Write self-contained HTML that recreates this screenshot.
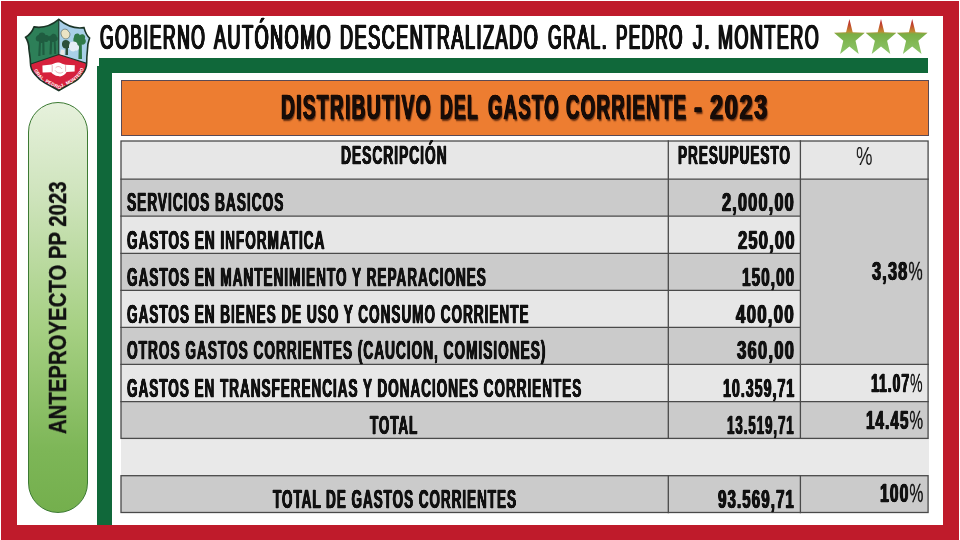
<!DOCTYPE html>
<html lang="es">
<head>
<meta charset="utf-8">
<title>Distributivo del Gasto Corriente - 2023</title>
<style>
  html, body { margin: 0; padding: 0; background: #fff; }
  body { width: 960px; height: 540px; overflow: hidden; position: relative;
         font-family: "Liberation Sans", sans-serif; color: #111; }
  #slide { position: absolute; left: 0; top: 0; width: 960px; height: 540px; background: #fff; overflow: hidden; }
  .abs { position: absolute; }
  .grp { left: 0; top: 0; width: 0; height: 0; margin: 0; font-size: 0; }
  .t { position: absolute; white-space: nowrap; will-change: transform; transform-origin: 0 0; font-family: "Liberation Sans", sans-serif; font-weight: bold; line-height: 1; display: block; margin: 0; padding: 0; color: #111;
       -webkit-text-stroke: 0.3px #111; text-shadow: 0.9px 0 0 #111, -0.9px 0 0 #111, 0.45px 0 0 #111, -0.45px 0 0 #111; letter-spacing: 1.9px; }
  .t .pc { font-weight: normal; text-shadow: none; letter-spacing: 0; -webkit-text-stroke: 0.35px #111; }
  .t.pct { font-weight: normal; text-shadow: none; letter-spacing: 0; -webkit-text-stroke: 0; }
  .t.pl { text-shadow: none; letter-spacing: 0; -webkit-text-stroke: 0.35px #111; }
  .t.sh, .t.shm { color: #170c08; -webkit-text-stroke: 0.5px #170c08; letter-spacing: 2.4px; }
  .t.shm { text-shadow: 1px 0 0 #170c08, -1px 0 0 #170c08, 0.5px 0 0 #170c08, -0.5px 0 0 #170c08; }
  .t.sh { text-shadow: 1px 0 0 #170c08, -1px 0 0 #170c08, 0.5px 0 0 #170c08, -0.5px 0 0 #170c08, 2px 1.5px 1.8px rgba(40,10,0,0.7); }
  .t.org { font-weight: normal; text-shadow: 1.6px 0 0 #111, -1.6px 0 0 #111, 0.8px 0 0 #111, -0.8px 0 0 #111; -webkit-text-stroke: 0.5px #111; letter-spacing: 3px; }


  /* red frame */
  #frame { left: 1px; top: 1px; width: 957.5px; height: 539px; background: #bf1b2b; }
  #paper { left: 16.5px; top: 15.5px; width: 926.8px; height: 509.3px; background: #fff; }
  /* green L */
  .green { background: #10683a; }
  #gtop { left: 98.5px; top: 58.3px; width: 829.5px; height: 15px; }
  #gleft { left: 97.2px; top: 66px; width: 14.7px; height: 458.8px; }
  /* pill */
  #pill { left: 27.5px; top: 102px; width: 60.5px; height: 411px; border-radius: 31px;
          box-sizing: border-box; border: 1px solid #3c7a33;
          background: linear-gradient(to bottom, #e6f1dc 0%, #cfe4bd 22%, #a6d083 55%, #7db657 85%, #74af4d 100%); }
  /* title box */
  #titlebox { left: 120.5px; top: 80px; width: 808.5px; height: 55.5px; box-sizing: border-box;
              background: #ed7d31; border: 1px solid #5b4a55; }
  /* table cells */
  .c { position: absolute; }
  .d { background: #cbcbcb; }
  .l { background: #e7e7e7; }
  .s { background: #e9e9e9; }
  #logo { left: 24px; top: 18px; }
  #stars { left: 830px; top: 16px; }
</style>
</head>
<body>
<div id="slide">
  <div id="frame" class="abs"></div>
  <div id="paper" class="abs"></div>

  <!-- municipal shield -->
  <svg id="logo" class="abs" width="68" height="74" viewBox="24 18 68 74">
    <defs>
      <clipPath id="shc"><path id="shp" d="M58.8 19.4 C52 25 43 28.5 34.1 26.9 C32.5 31 29.5 35 25.6 37.2 C28 41 29 45 28.9 49 C29.5 54 30.4 58 30.4 62.4 C30.4 67 32 71 34.8 74.3 C38 78.5 41.5 81 45.2 83.1 C50 85.8 55 88 58.8 90.6 C62.6 88 67 85.8 71.9 83.1 C76 81 79.5 78.5 82.2 74.3 C85 71 86.7 67 86.7 62.4 C86.7 58 87 54 87.4 50.6 C87.4 46 88 42 89.6 38 C86.5 35.5 85 31.5 84 27.6 C75 29 65.5 25 58.8 19.4 Z"/></clipPath>
      <path id="arc" d="M33.6 68.5 C36 76 42 80.6 47 83.2 C51 85.2 55 87 58.8 88.8 C62.6 87 66.6 85.2 70.6 83.2 C75.6 80.6 81.6 76 84 68.5"/>
    </defs>
    <g clip-path="url(#shc)">
      <rect x="24" y="18" width="35" height="74" fill="#2d7f58"/>
      <rect x="58.8" y="18" width="35" height="74" fill="#a9d0e8"/>
      <!-- left trees -->
      <path d="M38.2 56 L39 41.5 C35 42 34.5 36 38.5 35 C39.5 31.5 45 31.8 45.5 35.2 C48.5 34 50.5 38 48.6 40.4 C47.6 42 45.6 42.2 44.4 41.6 L44.6 55 L42.4 55 L42.3 43 L40.9 43 L40.4 56 Z" fill="#1f5c40"/>
      <path d="M49.4 54.5 L50 41 C47.5 40 48 35.5 51 35.4 C52 32.8 56.5 33.4 56.6 36.4 C58.6 37.5 57.8 41 55.6 41.2 L56.2 54 L54.2 54 L53.8 42 L52.2 42 L51.6 54.5 Z" fill="#1f5c40"/>
      <!-- right scene -->
      <path d="M61 32.5 C61.5 28.5 67.5 28 68.6 31.6 C71 33 70 38.5 66.5 38.8 C63.5 39.5 60.6 36 61 32.5 Z" fill="#ece4c4" stroke="#4a5a52" stroke-width="0.6"/>
      <path d="M63 41 C65 39 70 40 70 43.5 C71.5 45.5 70 48.5 68 48 L68 55 L65.4 55 L65.6 48.5 C62 48.5 61 43.5 63 41 Z" fill="#2c4f3a"/>
      <path d="M74 37 C74 33 79 32.6 79.8 35.2 C82 32.8 86.5 35 84.8 38.6 C87.2 41 85.2 45.5 81.8 44.6 L82 59 L78.4 59 L78.8 45.8 C75 46.6 72 41.5 74 37 Z" fill="#2f7a48"/>
      <path d="M69.4 44 C71 40.4 77.6 41 77.6 45 C80.4 46.4 79 51.4 75.4 50.6 C72.4 53 67.4 50 69.4 44 Z" fill="#e4eef6"/>
      <path d="M60 55 L61 49.5 L64.6 49.8 L64.4 55.6 Z" fill="#e6e6e6"/>
      <!-- lower red field -->
      <path d="M20 67.6 L58.8 54.6 L95 66 L95 95 L20 95 Z" fill="#d6213c"/>
      <!-- handshake -->
      <path d="M42.4 65.6 L51.6 64.6 L54.6 63.2 C56.6 62.2 60.2 62.4 62.2 63.8 L65.4 64.8 L74.8 65.2 L74.6 71.6 L66.6 72 C65 75 61 77.4 58.2 76 C55.6 76.2 52.8 74.2 51.2 72.2 L42.6 72.4 Z" fill="#fff"/>
      <path d="M52.2 65.2 L52.2 71.8 M65.6 65.2 L65.6 71.6 M55.6 67.8 C57.6 65.8 60.2 66.2 61.8 68.8 M55 70.4 C57 73 60.6 74 63.2 72" stroke="#e08c98" stroke-width="0.7" fill="none"/>
      <!-- divider lines -->
      <path d="M58.8 19 L58.8 54.6 M27 65.3 L58.8 54.6 L90 64.4" stroke="#1a3426" stroke-width="1.1" fill="none"/>
    </g>
    <use href="#shp" fill="none" stroke="#1a3426" stroke-width="1.6"/>
    <text font-family="'Liberation Sans', sans-serif" font-size="4.7" font-weight="bold" fill="#ffffff" letter-spacing="0.1"><textPath href="#arc" startOffset="1.5">GRAL. PEDRO J. MONTERO</textPath></text>
  </svg>

  <h1 class="abs grp">
    <span class="t org" style="left:99.50px;top:20.09px;font-size:35.9px;transform:scaleX(0.4889)">GOBIERNO</span> 
    <span class="t org" style="left:214.31px;top:20.09px;font-size:35.9px;transform:scaleX(0.5018)">AUTÓNOMO</span> 
    <span class="t org" style="left:339.85px;top:20.09px;font-size:35.9px;transform:scaleX(0.5031)">DESCENTRALIZADO</span> 
    <span class="t org" style="left:548.10px;top:20.09px;font-size:35.9px;transform:scaleX(0.4895)">GRAL.</span> 
    <span class="t org" style="left:616.09px;top:20.09px;font-size:35.9px;transform:scaleX(0.4758)">PEDRO</span> 
    <span class="t org" style="left:692.94px;top:20.09px;font-size:35.9px;transform:scaleX(0.5368)">J.</span> 
    <span class="t org" style="left:717.66px;top:20.09px;font-size:35.9px;transform:scaleX(0.4999)">MONTERO</span> 
  </h1>

  <!-- three stars -->
  <svg id="stars" class="abs" width="100" height="40" viewBox="830 16 100 40">
    <defs>
      <linearGradient id="sg" x1="0" y1="0" x2="0" y2="1">
        <stop offset="0" stop-color="#b31f2e"/>
        <stop offset="0.2" stop-color="#c4502c"/>
        <stop offset="0.36" stop-color="#c18a33"/>
        <stop offset="0.43" stop-color="#7aae45"/>
        <stop offset="1" stop-color="#8cc66b"/>
      </linearGradient>
      <path id="st" d="M0 -19.3 L3.3 -6.1 L15.4 -5.6 L6.1 2.5 L9.3 15.6 L0 8.1 L-9.3 15.6 L-6.1 2.5 L-15.4 -5.6 L-3.3 -6.1 Z" fill="url(#sg)"/>
    </defs>
    <use href="#st" x="849.4" y="38.3"/>
    <use href="#st" x="881" y="38.3"/>
    <use href="#st" x="912.2" y="38.3"/>
  </svg>

  <div id="gtop" class="abs green"></div>
  <div id="gleft" class="abs green"></div>

  <div id="pill" class="abs"></div>
  <div class="abs" style="left:47.43px;top:433.74px;width:0;height:0;transform-origin:0 0;transform:rotate(-90deg)"><span class="t pl" style="left:0;top:0;font-size:23.0px;transform:scaleX(0.8846)">ANTEPROYECTO PP 2023</span></div>

  <div id="titlebox" class="abs"></div>
  <h2 class="abs grp">
    <span class="t sh" style="left:281.25px;top:89.91px;font-size:35.9px;transform:scaleX(0.5348)">DISTRIBUTIVO</span> 
    <span class="t sh" style="left:439.90px;top:89.91px;font-size:35.9px;transform:scaleX(0.4924)">DEL</span> 
    <span class="t sh" style="left:488.02px;top:89.91px;font-size:35.9px;transform:scaleX(0.5164)">GASTO</span> 
    <span class="t sh" style="left:565.52px;top:89.91px;font-size:35.9px;transform:scaleX(0.5202)">CORRIENTE</span> 
    <span class="t sh" style="left:693.92px;top:89.91px;font-size:35.9px;transform:scaleX(0.6784)">-</span> 
    <span class="t sh" style="left:710.04px;top:89.91px;font-size:35.9px;transform:scaleX(0.6590)">2023</span> 
  </h2>

  <!-- table -->
  <div id="table">
    <!-- backgrounds -->
    <div class="c l" style="left:121.0px;top:141.0px;width:807.1px;height:38.1px"></div>
    <div class="c d" style="left:121.0px;top:179.1px;width:679.4px;height:37.1px"></div>
    <div class="c l" style="left:121.0px;top:216.2px;width:679.4px;height:37.1px"></div>
    <div class="c d" style="left:121.0px;top:253.3px;width:679.4px;height:37.1px"></div>
    <div class="c l" style="left:121.0px;top:290.4px;width:679.4px;height:36.9px"></div>
    <div class="c d" style="left:121.0px;top:327.3px;width:679.4px;height:37.1px"></div>
    <div class="c d" style="left:800.4px;top:179.1px;width:127.7px;height:185.3px"></div>
    <div class="c l" style="left:121.0px;top:364.4px;width:807.1px;height:37.2px"></div>
    <div class="c d" style="left:121.0px;top:401.6px;width:807.1px;height:36.8px"></div>
    <div class="c s" style="left:120.5px;top:438.4px;width:808.1px;height:37.3px"></div>
    <div class="c d" style="left:121.0px;top:475.7px;width:807.1px;height:36.8px"></div>
    <!-- grid lines -->
    <svg class="abs" style="left:0;top:0" width="960" height="540" viewBox="0 0 960 540">
      <g stroke="#4a4a4a" stroke-width="1.3" fill="none" stroke-linecap="square">
        <rect x="121.0" y="141.0" width="807.1" height="297.4"/>
        <rect x="121.0" y="475.7" width="807.1" height="36.8"/>
        <path d="M668.3 141.0V438.4 M668.3 475.7V512.5 M800.4 141.0V438.4 M800.4 475.7V512.5 M121.0 179.1H928.1 M121.0 216.2H800.4 M121.0 253.3H800.4 M121.0 290.4H800.4 M121.0 327.3H800.4 M121.0 364.4H928.1 M121.0 401.6H928.1"/>
      </g>
    </svg>
    <!-- header -->
    <span class="t " style="left:341.39px;top:142.01px;font-size:26.6px;transform:scaleX(0.5186)">DESCRIPCIÓN</span><span class="t " style="left:678.20px;top:142.01px;font-size:26.6px;transform:scaleX(0.5100)">PRESUPUESTO</span><span class="t pct" style="left:856.06px;top:142.96px;font-size:26.6px;transform:scaleX(0.6962)">%</span>
    <!-- rows -->
    <span class="t " style="left:127.03px;top:189.01px;font-size:26.6px;transform:scaleX(0.5155)">SERVICIOS BASICOS</span><span class="t " style="left:722.35px;top:189.01px;font-size:26.6px;transform:scaleX(0.6134)">2,000,00</span>
    <span class="t " style="left:126.91px;top:227.03px;font-size:26.6px;transform:scaleX(0.5116)">GASTOS EN INFORMATICA</span><span class="t " style="left:737.65px;top:227.03px;font-size:26.6px;transform:scaleX(0.6206)">250,00</span>
    <span class="t " style="left:126.91px;top:264.11px;font-size:26.6px;transform:scaleX(0.5113)">GASTOS EN MANTENIMIENTO Y REPARACIONES</span><span class="t " style="left:741.90px;top:264.11px;font-size:26.6px;transform:scaleX(0.5736)">150,00</span>
    <span class="t " style="left:126.91px;top:301.11px;font-size:26.6px;transform:scaleX(0.5107)">GASTOS EN BIENES DE USO Y CONSUMO CORRIENTE</span><span class="t " style="left:736.37px;top:301.11px;font-size:26.6px;transform:scaleX(0.6347)">400,00</span>
    <span class="t " style="left:126.91px;top:337.06px;font-size:26.6px;transform:scaleX(0.5146)">OTROS GASTOS CORRIENTES (CAUCION, COMISIONES)</span><span class="t " style="left:737.10px;top:337.06px;font-size:26.6px;transform:scaleX(0.6267)">360,00</span>
    <span class="t " style="left:126.91px;top:375.11px;font-size:26.6px;transform:scaleX(0.5094)">GASTOS EN TRANSFERENCIAS Y DONACIONES CORRIENTES</span><span class="t " style="left:722.63px;top:375.11px;font-size:26.6px;transform:scaleX(0.5334)">10.359,71</span>
    <span class="t " style="left:370.36px;top:412.01px;font-size:26.6px;transform:scaleX(0.5042)">TOTAL</span><span class="t " style="left:727.15px;top:412.08px;font-size:26.6px;transform:scaleX(0.4995)">13.519,71</span>
    <span class="t " style="left:273.06px;top:486.01px;font-size:26.6px;transform:scaleX(0.5078)">TOTAL DE GASTOS CORRIENTES</span><span class="t " style="left:717.97px;top:486.01px;font-size:26.6px;transform:scaleX(0.5682)">93.569,71</span>
    <span class="t " style="left:871.79px;top:258.06px;font-size:26.6px;transform:scaleX(0.6128)">3,38<span class="pc">%</span></span><span class="t " style="left:871.04px;top:370.03px;font-size:26.6px;transform:scaleX(0.5241)">11.07<span class="pc">%</span></span><span class="t " style="left:865.60px;top:407.03px;font-size:26.6px;transform:scaleX(0.5723)">14.45<span class="pc">%</span></span><span class="t " style="left:879.59px;top:480.01px;font-size:26.6px;transform:scaleX(0.5886)">100<span class="pc">%</span></span>
  </div>
</div>
</body>
</html>
